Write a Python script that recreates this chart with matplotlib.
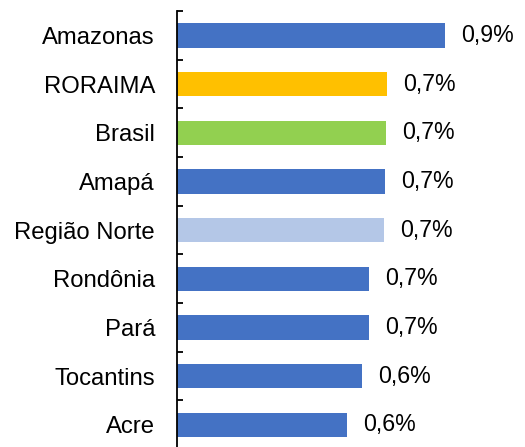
import matplotlib
matplotlib.use("Agg")
import matplotlib.pyplot as plt
from matplotlib.ticker import FixedLocator

categories = ["Amazonas", "RORAIMA", "Brasil", "Amapá", "Região Norte",
              "Rondônia", "Pará", "Tocantins", "Acre"]
values = [0.92, 0.721, 0.717, 0.714, 0.711, 0.659, 0.659, 0.635, 0.584]
colors = ["#4472C4", "#FFC000", "#92D050", "#4472C4", "#B4C7E7",
          "#4472C4", "#4472C4", "#4472C4", "#4472C4"]

plt.rcParams['font.family'] = ['Liberation Sans', 'DejaVu Sans']

fig = plt.figure(figsize=(5.25, 4.47), dpi=100)
ax = fig.add_axes([177/525, 1 - 449/447, 348/525, 438/447])

y = list(range(len(categories)))
bars = ax.barh(y, values, height=0.5, color=colors)
for yi, v in zip(y, values):
    ax.annotate(f"{v:.1f}".replace(".", ",") + "%", xy=(v, yi),
                xytext=(11.5, 0), textcoords="offset points",
                va="center", ha="left", fontsize=16.7, color="black")

ax.set_ylim(len(categories) - 0.5, -0.5)
ax.set_xlim(0, 0.92 * 348 / 268)
ax.set_yticks(y)
ax.set_yticklabels(categories, fontsize=17.2)
ax.yaxis.set_minor_locator(FixedLocator([i - 0.5 for i in range(len(categories) + 1)]))
ax.tick_params(axis="y", which="major", length=0, pad=15.8)
ax.tick_params(axis="y", which="minor", direction="in", length=4.5, width=1.3)
ax.set_xticks([])
for s in ["top", "right", "bottom"]:
    ax.spines[s].set_visible(False)
ax.spines["left"].set_linewidth(1.3)
ax.patch.set_alpha(0)

fig.savefig("out.png", dpi=100)
